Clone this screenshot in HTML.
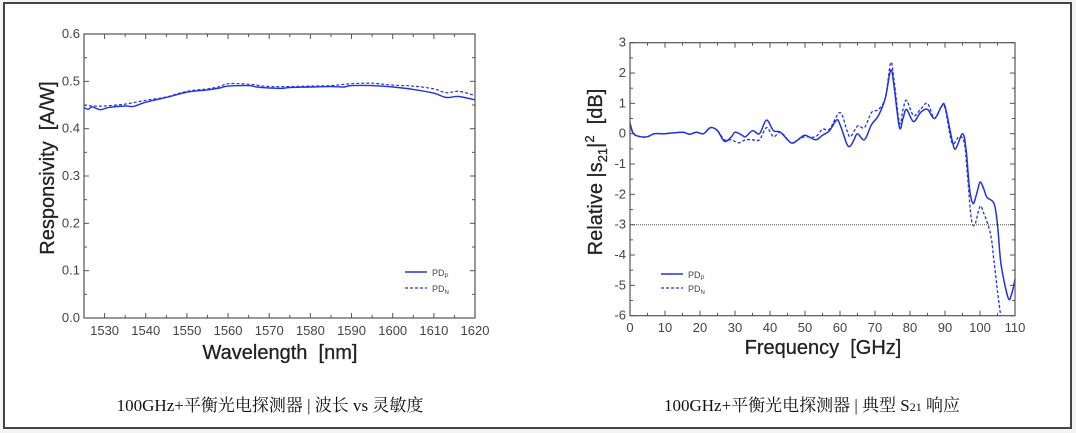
<!DOCTYPE html>
<html><head><meta charset="utf-8"><style>
html,body{margin:0;padding:0;background:#fff;}
svg{display:block;}
text{font-family:"Liberation Sans",sans-serif;}
.t{font-size:13px;fill:#444;}
.cap{font-family:"Liberation Serif","Noto Serif CJK SC",serif;font-size:17px;fill:#111;}
.ax{font-size:20px;fill:#222;stroke:#222;stroke-width:0.3;}
</style></head><body>
<svg id="s" width="1076" height="433" xmlns="http://www.w3.org/2000/svg">
<rect x="0" y="0" width="1076" height="433" fill="#f4f4f4"/>
<rect x="4" y="3" width="1067" height="425" fill="#fff" stroke="#444" stroke-width="2"/>
<g id="g"></g>
<!-- left -->
<rect x="84" y="34" width="391" height="284" fill="none" stroke="#555" stroke-width="1.2"/>
<text x="280" y="359" text-anchor="middle" class="ax">Wavelength&#160;&#160;[nm]</text>
<text transform="translate(54,168) rotate(-90)" text-anchor="middle" class="ax">Responsivity&#160;&#160;[A/W]</text>
<line x1="405" y1="272" x2="427" y2="272" stroke="#2233dd" stroke-width="1.6"/>
<line x1="405" y1="288" x2="427" y2="288" stroke="#2233dd" stroke-width="1.3" stroke-dasharray="3,2"/>
<text x="432" y="276" font-size="9" fill="#444">PD<tspan font-size="6" dy="2">P</tspan></text>
<text x="432" y="292" font-size="9" fill="#444">PD<tspan font-size="6" dy="2">N</tspan></text>
<text x="270" y="411" text-anchor="middle" class="cap">100GHz+平衡光电探测器&#160;|&#160;波长 vs 灵敏度</text>
<!-- right -->
<rect x="630" y="42.7" width="385" height="273" fill="none" stroke="#555" stroke-width="1.2"/>
<line x1="630" y1="224.7" x2="1015" y2="224.7" stroke="#555" stroke-width="1" stroke-dasharray="1,1"/>
<text x="823" y="354" text-anchor="middle" class="ax">Frequency&#160;&#160;[GHz]</text>
<text transform="translate(602,172) rotate(-90)" text-anchor="middle" class="ax">Relative |s<tspan font-size="13" dy="5">21</tspan><tspan dy="-5">|</tspan><tspan font-size="13" dy="-8">2</tspan><tspan dy="8">&#160;&#160;[dB]</tspan></text>
<line x1="661" y1="274" x2="683" y2="274" stroke="#2233dd" stroke-width="1.6"/>
<line x1="661" y1="288" x2="683" y2="288" stroke="#2233dd" stroke-width="1.3" stroke-dasharray="3,2"/>
<text x="688" y="278" font-size="9" fill="#444">PD<tspan font-size="6" dy="2">P</tspan></text>
<text x="688" y="292" font-size="9" fill="#444">PD<tspan font-size="6" dy="2">N</tspan></text>
<text x="812" y="411" text-anchor="middle" class="cap">100GHz+平衡光电探测器&#160;|&#160;典型 S<tspan font-size="12">21</tspan> 响应</text>
</svg>
<script>
var g=document.getElementById('g'),NS='http://www.w3.org/2000/svg';
function el(n,a,t){var e=document.createElementNS(NS,n);for(var k in a)e.setAttribute(k,a[k]);if(t!==undefined)e.textContent=t;g.appendChild(e);return e;}
function smooth(p){var d='M'+p[0][0].toFixed(1)+','+p[0][1].toFixed(1);for(var i=0;i<p.length-1;i++){var p0=p[i-1]||p[i],p1=p[i],p2=p[i+1],p3=p[i+2]||p2;var c1=[p1[0]+(p2[0]-p0[0])/6,p1[1]+(p2[1]-p0[1])/6],c2=[p2[0]-(p3[0]-p1[0])/6,p2[1]-(p3[1]-p1[1])/6];d+='C'+c1[0].toFixed(1)+','+c1[1].toFixed(1)+' '+c2[0].toFixed(1)+','+c2[1].toFixed(1)+' '+p2[0].toFixed(1)+','+p2[1].toFixed(1);}return d;}
function LX(w){return 84+(w-1525)*4.116;} function LY(v){return 318-v*473.3;}
for(var w=1525;w<=1620;w+=5){var x=LX(w),L=(w%10==0)?5:3;el('line',{x1:x,y1:318,x2:x,y2:318-L,stroke:'#555'});el('line',{x1:x,y1:34,x2:x,y2:34+L,stroke:'#555'});if(w%10==0)el('text',{x:x,y:335,'text-anchor':'middle','class':'t'},w);}
for(var i=0;i<=12;i++){var v=i*0.05,y=LY(v),L=(i%2==0)?5:3;el('line',{x1:84,y1:y,x2:84+L,y2:y,stroke:'#555'});el('line',{x1:475,y1:y,x2:475-L,y2:y,stroke:'#555'});if(i%2==0)el('text',{x:80,y:y+4,'text-anchor':'end','class':'t'},v.toFixed(1));}
var lp=[[1525,.445],[1526,.441],[1527,.446],[1529,.44],[1531,.445],[1535,.448],[1537,.447],[1540,.456],[1545,.466],[1550,.477],[1555,.482],[1558,.486],[1560,.490],[1565,.491],[1567,.488],[1570,.486],[1573,.485],[1575,.487],[1580,.488],[1585,.489],[1588,.488],[1590,.491],[1595,.491],[1600,.488],[1605,.483],[1610,.475],[1613,.466],[1616,.468],[1620,.461]];
var ln=[[1525,.450],[1527,.448],[1530,.448],[1535,.452],[1540,.460],[1545,.467],[1550,.479],[1555,.484],[1558,.489],[1560,.495],[1565,.494],[1570,.489],[1575,.489],[1580,.490],[1585,.491],[1590,.495],[1595,.496],[1600,.492],[1605,.490],[1610,.484],[1613,.476],[1616,.479],[1620,.470]];
el('path',{d:smooth(lp.map(function(a){return[LX(a[0]),LY(a[1])]})),fill:'none',stroke:'#2233dd','stroke-width':1.4});
el('path',{d:smooth(ln.map(function(a){return[LX(a[0]),LY(a[1])]})),fill:'none',stroke:'#2233dd','stroke-width':1.2,'stroke-dasharray':'3,2'});
function RX(f){return 630+f*3.5;} function RY(d){return 133.7-d*30.33;}
for(var f=0;f<=110;f+=5){var x=RX(f),L=(f%10==0)?5:3;el('line',{x1:x,y1:315.7,x2:x,y2:315.7-L,stroke:'#555'});el('line',{x1:x,y1:42.7,x2:x,y2:42.7+L,stroke:'#555'});if(f%10==0)el('text',{x:x,y:332,'text-anchor':'middle','class':'t'},f);}
for(var i=0;i<=18;i++){var d=3-i*0.5,y=RY(d),L=(i%2==0)?5:3;el('line',{x1:630,y1:y,x2:630+L,y2:y,stroke:'#555'});el('line',{x1:1015,y1:y,x2:1015-L,y2:y,stroke:'#555'});if(i%2==0)el('text',{x:626,y:y+4,'text-anchor':'end','class':'t'},d);}
var rp=[[0,.35],[1,0],[3,-.1],[5,-.1],[7,0],[10,0],[15,.05],[17,-.02],[19,.05],[21,0],[23,.2],[25,.1],[27,-.25],[29,-.1],[30,.05],[32,-.05],[33,-.1],[35,.1],[37,0],[39,.45],[41,.1],[43,.05],[46,-.3],[48,-.2],[50,-.05],[53,-.2],[55,-.05],[57,.1],[59,.45],[60,.3],[62,-.35],[63,-.4],[64,-.2],[65,0],[67,-.2],[69,.3],[71,.6],[73,1.2],[74.5,2.1],[75.5,1.5],[77,.2],[78,.5],[79,.8],[81,.4],[83,.7],[85,.8],[87,.5],[89,.9],[90,.9],[92,-.2],[93,-.5],[95,0],[96,-.5],[97,-1.8],[98,-2.3],[99,-2.0],[100,-1.6],[101,-1.8],[102,-2.1],[104,-2.3],[105,-3],[106,-4.3],[108,-5.4],[109,-5.3],[110,-4.8]];
var rn=[[0,.3],[1,0],[3,-.1],[5,-.1],[7,0],[10,0],[15,.05],[17,-.02],[19,.05],[21,0],[23,.2],[25,.1],[27,-.2],[29,-.2],[31,-.3],[33,-.2],[35,-.2],[37,-.2],[39,.2],[41,-.1],[43,.05],[46,-.3],[48,-.2],[50,-.1],[53,-.1],[55,.15],[57,.15],[60,.7],[62,.1],[63,-.1],[65,.25],[67,.2],[69,.7],[71,.8],[73,1.2],[74.5,2.35],[75.5,1.7],[77,.35],[78,.8],[79,1.1],[81,.6],[83,.8],[85,1.0],[87,.5],[89,.9],[90,.85],[92,-.3],[94,-.1],[95.5,-.3],[96.5,-1.5],[97.5,-2.8],[98.5,-3.0],[100,-2.4],[101,-2.6],[103,-3.3],[104,-4.2],[105,-5.2],[105.9,-6]];
el('path',{d:smooth(rp.map(function(a){return[RX(a[0]),RY(a[1])]})),fill:'none',stroke:'#2233dd','stroke-width':1.5});
el('path',{d:smooth(rn.map(function(a){return[RX(a[0]),RY(a[1])]})),fill:'none',stroke:'#2233dd','stroke-width':1.3,'stroke-dasharray':'3,2'});
</script>
</body></html>
